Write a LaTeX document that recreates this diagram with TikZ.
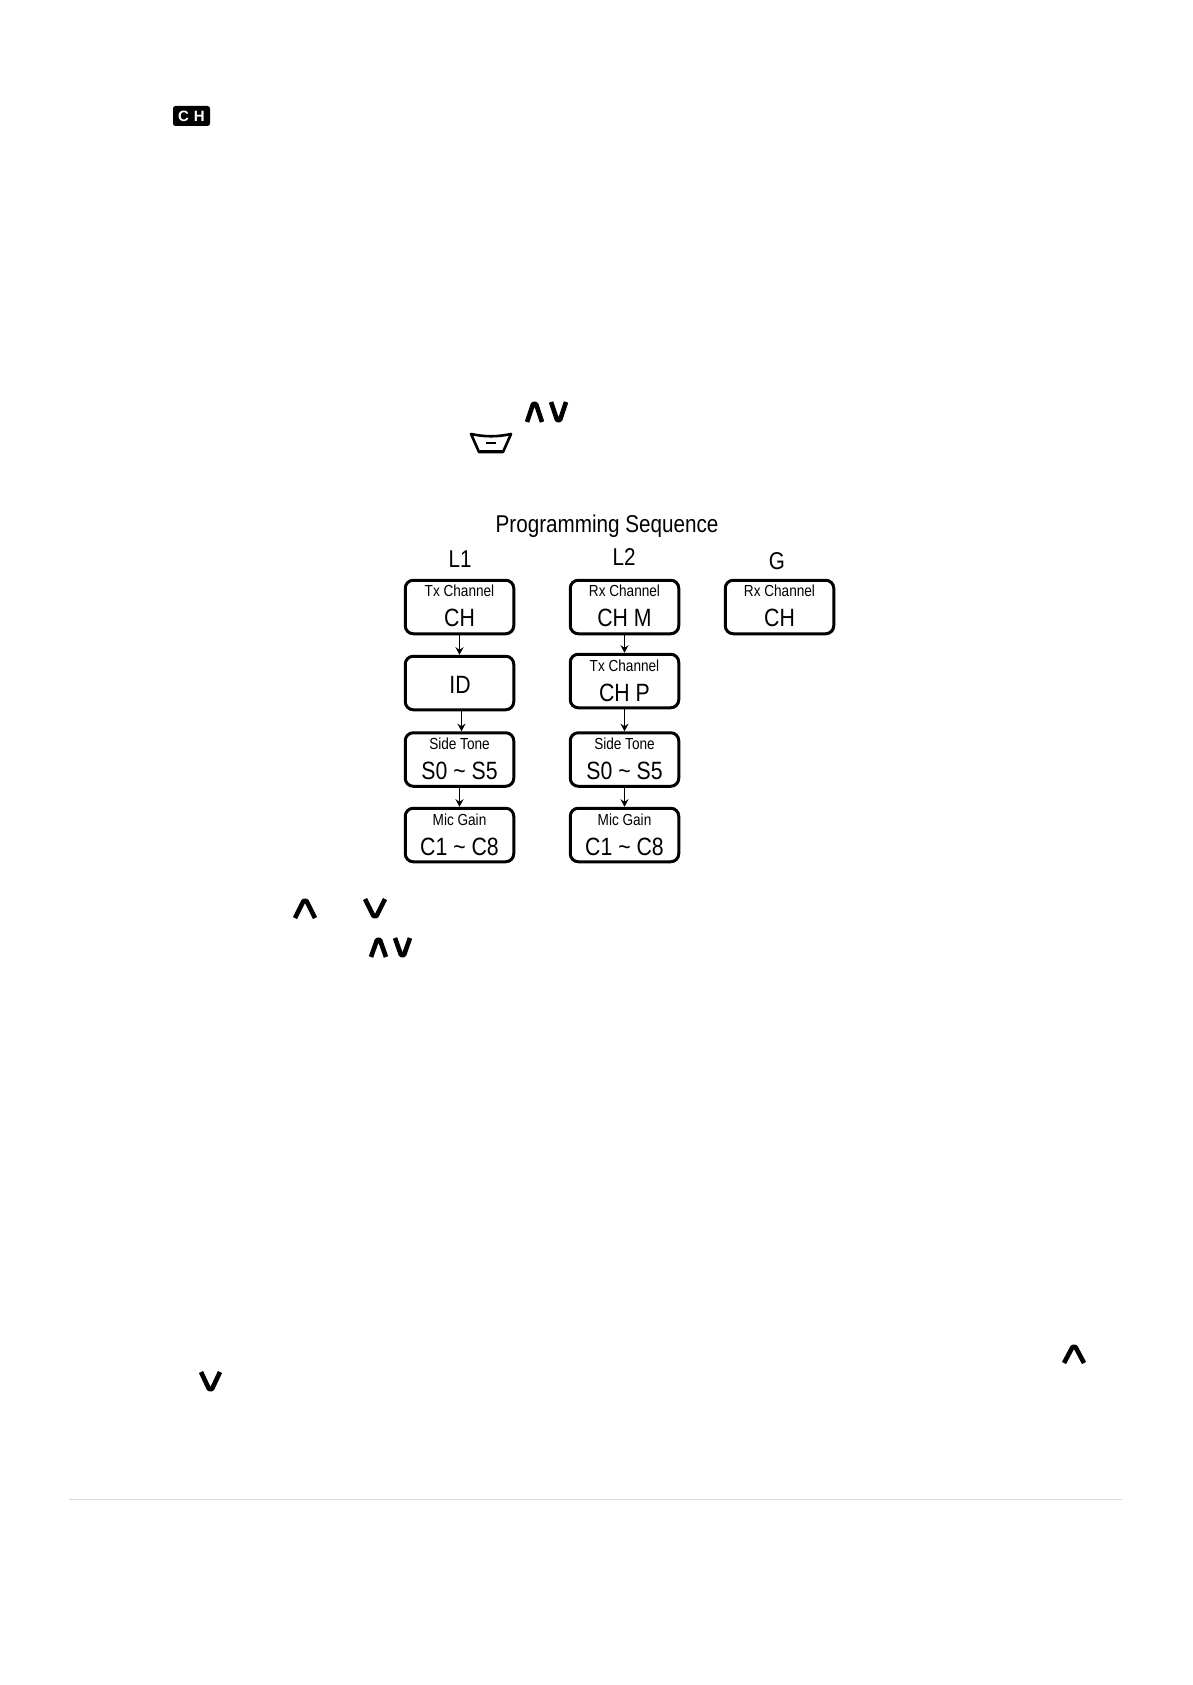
\documentclass[tikz,border=0pt]{standalone}
\usepackage{fontspec}
\setmainfont{Liberation Sans}
\newfontfamily\narrowface[FakeStretch=0.85]{Liberation Sans}
\usetikzlibrary{arrows.meta}
\tikzset{
  boxst/.style={draw=black,line width=3pt,rounded corners=8pt,minimum width=108.5pt,minimum height=53.5pt,inner sep=0pt,fill=white},
  smalllab/.style={anchor=base,inner sep=0pt,font=\narrowface\fontsize{16}{16}\selectfont},
  biglab/.style={anchor=base,inner sep=0pt,font=\narrowface\fontsize{25}{25}\selectfont},
  titlelab/.style={anchor=base,inner sep=0pt,font=\narrowface\fontsize{24.3}{24.3}\selectfont},
  arrowst/.style={draw=black,line width=1.8pt,-{Stealth[length=7.5pt,width=8pt]}},
  chev/.style={draw=black,line width=4.6pt,line join=round},
  rulest/.style={draw=black!15,line width=1pt}
}
\newcommand{\progbox}[6]{%
  \node[boxst] (#1) at (#2,#3) {};
  \node[smalllab] (#1s) at (#2,#5-0.7) {#4};
  \node[biglab] (#1b) at (#2,#5+29) {#6};
}
\newcommand{\chevup}[4]{\draw[chev] (#1+2,#4) -- ({(#1+#2)/2-1.5},#3+2) -- ({(#1+#2)/2+1.5},#3+2) -- (#2-2,#4);}
\newcommand{\chevdn}[4]{\draw[chev] (#1+2,#3) -- ({(#1+#2)/2-1.5},#4-2) -- ({(#1+#2)/2+1.5},#4-2) -- (#2-2,#3);}
\begin{document}
\begin{tikzpicture}[x=1pt,y=-1pt]
\useasboundingbox (0,0) rectangle (1192,1685);
% CH icon
\node[fill=black,rounded corners=2.5pt,minimum width=37pt,minimum height=20pt,inner sep=0pt,text=white,font=\bfseries\fontsize{15}{15}\selectfont] (chicon) at (191.5,116) {C\,\,H};
% soft key icon
\draw[line width=2.6pt,draw=black,line join=round,fill=white] (471,434) .. controls (485,437) and (497,437) .. (511,434) -- (503,452) -- (479,452) -- cycle;
\draw[line width=2pt] (480,450.5) -- (502,450.5);
\draw[line width=1.5pt] (486,443) -- (496,443);
% chevrons
\chevup{525}{544}{402}{422}
\chevdn{549}{568}{402}{422}
\chevup{293}{317}{899}{918}
\chevdn{363}{387}{899}{918}
\chevup{369}{388}{938}{957}
\chevdn{393}{412}{938}{957}
\chevup{1062}{1086}{1345}{1363}
\chevdn{199}{222}{1372}{1391}
% headings
\node[titlelab] (title) at (607,532) {Programming Sequence};
\node[titlelab] (hl1) at (460,567) {L1};
\node[titlelab] (hl2) at (624,565) {L2};
\node[titlelab] (hg) at (777,569) {G};
% boxes
\progbox{a}{459.5}{607}{Tx Channel}{597}{CH}
\node[boxst] (b) at (459.5,683) {};
\node[biglab] (bb) at (460,693) {ID};
\progbox{c}{459.5}{759.5}{Side Tone}{750}{S0 \char`\~{} S5}
\progbox{d}{459.5}{835}{Mic Gain}{826}{C1 \char`\~{} C8}
\progbox{e}{624.5}{607}{Rx Channel}{597}{CH M}
\progbox{f}{624.5}{681}{Tx Channel}{672}{CH P}
\progbox{g}{624.5}{759.5}{Side Tone}{750}{S0 \char`\~{} S5}
\progbox{h}{624.5}{835}{Mic Gain}{826}{C1 \char`\~{} C8}
\progbox{i}{779.5}{607}{Rx Channel}{597}{CH}
% connectors
\draw[arrowst] (a.south) -- (b.north);
\draw[arrowst] ([xshift=2pt]b.south) -- ([xshift=2pt]c.north);
\draw[arrowst] (c.south) -- (d.north);
\draw[arrowst] (e.south) -- (f.north);
\draw[arrowst] (f.south) -- (g.north);
\draw[arrowst] (g.south) -- (h.north);
% rule
\coordinate (ruleA) at (69,1499.5);
\coordinate (ruleB) at (1122,1499.5);
\draw[rulest] (ruleA) -- (ruleB);
\end{tikzpicture}
\end{document}
